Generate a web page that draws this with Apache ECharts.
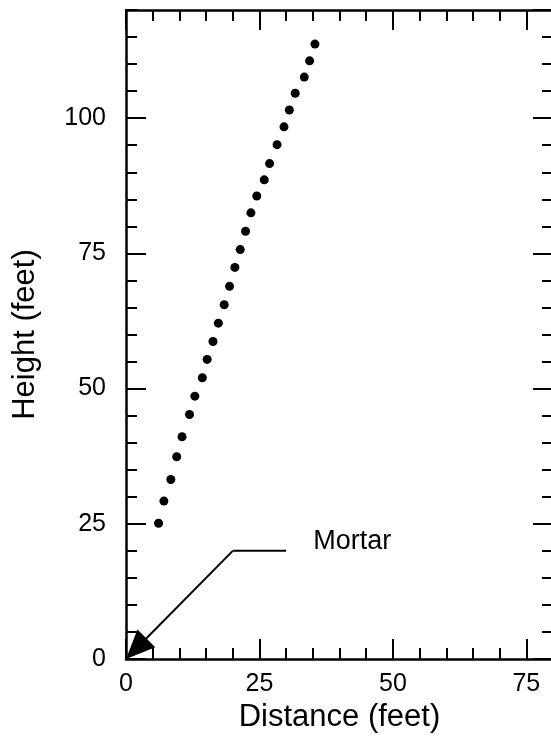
<!DOCTYPE html>
<html><head><meta charset="utf-8">
<script src="https://cdn.jsdelivr.net/npm/echarts@6/dist/echarts.min.js"></script>
<style>html,body{margin:0;padding:0;background:#fff}#chart{width:551px;height:737px}</style>
</head><body><div id="chart"></div>
<script>
// Data
const distance = [6.1, 7.1, 8.4, 9.5, 10.5, 11.9, 12.9, 14.3, 15.2, 16.3, 17.3, 18.4, 19.4, 20.4, 21.4, 22.4, 23.4, 24.5, 25.9, 26.9, 28.3, 29.6, 30.6, 31.7, 33.4, 34.4, 35.4];
const height = [25.1, 29.2, 33.2, 37.4, 41.1, 45.2, 48.6, 52.0, 55.4, 58.7, 62.1, 65.5, 68.9, 72.4, 75.7, 79.1, 82.5, 85.6, 88.6, 91.6, 95.1, 98.4, 101.5, 104.6, 107.6, 110.6, 113.7];
const xTickLabels = ['0', '25', '50', '75'];
const yTickLabels = ['0', '25', '50', '75', '100'];
const mortarLeader = [[30, 20], [20, 20]];
const mortarArrow = [[20, 20], [0, 0]];
const mortarLabelPos = [35.1, 21.7];
const mortarText = 'Mortar';

const FONT = 'Liberation Sans';
const BLACK = '#000';

function majorAxis(pos, min, max, withLabels, labels, name, nameGap) {
  return {
    type: 'value', position: pos, min: min, max: max, interval: 25,
    axisLine: { show: true, onZero: false, lineStyle: { color: BLACK, width: 2.5 } },
    axisTick: { show: true, inside: true, length: 20, lineStyle: { color: BLACK, width: 2 } },
    axisLabel: {
      show: withLabels, showMaxLabel: false, margin: (pos === 'left' ? 20 : 13),
      fontSize: 25, color: BLACK, fontFamily: FONT,
      formatter: function (v) { const i = Math.round(v / 25); return labels[i] !== undefined ? labels[i] : ''; }
    },
    splitLine: { show: false },
    name: name || '', nameLocation: 'middle', nameGap: nameGap || 0,
    nameTextStyle: { fontSize: 31, color: BLACK, fontFamily: FONT }
  };
}
function minorAxis(pos, min, max) {
  return {
    type: 'value', position: pos, min: min, max: max, interval: 5,
    axisLine: { show: false, onZero: false },
    axisTick: { show: true, inside: true, length: 11, lineStyle: { color: BLACK, width: 2 } },
    axisLabel: { show: false },
    splitLine: { show: false }
  };
}

const chart = echarts.init(document.getElementById('chart'), null, { renderer: 'canvas' });
chart.setOption({
  animation: false,
  backgroundColor: '#fff',
  grid: { left: 126, top: 10, width: 427, height: 649, outerBoundsMode: 'none', containLabel: false },
  xAxis: [
    majorAxis('bottom', 0, 80, true, xTickLabels, 'Distance (feet)', 43),
    minorAxis('bottom', 0, 80),
    majorAxis('top', 0, 80, false, xTickLabels),
    minorAxis('top', 0, 80)
  ],
  yAxis: [
    majorAxis('left', 0, 120, true, yTickLabels, 'Height (feet)', 85),
    minorAxis('left', 0, 120),
    majorAxis('right', 0, 120, false, yTickLabels),
    minorAxis('right', 0, 120)
  ],
  series: [
    {
      type: 'scatter', xAxisIndex: 0, yAxisIndex: 0,
      data: distance.map((d, i) => [d, height[i]]),
      symbol: 'circle', symbolSize: 9,
      itemStyle: { color: BLACK, opacity: 1 },
      emphasis: { disabled: true }
    },
    {
      type: 'line', xAxisIndex: 0, yAxisIndex: 0,
      data: mortarLeader, symbol: 'none',
      lineStyle: { color: BLACK, width: 2 },
      emphasis: { disabled: true },
      markLine: {
        silent: true, symbol: ['none', 'triangle'],
        label: { show: false },
        lineStyle: { color: BLACK, width: 2, type: 'solid', opacity: 1 },
        emphasis: { disabled: true },
        data: [[
          { coord: mortarArrow[0], symbol: 'none' },
          { coord: mortarArrow[1], symbol: 'triangle', symbolSize: [25, 29], symbolOffset: [0, 14.5] }
        ]]
      }
    },
    {
      type: 'scatter', xAxisIndex: 0, yAxisIndex: 0,
      data: [mortarLabelPos], symbol: 'circle', symbolSize: 0,
      itemStyle: { color: BLACK, opacity: 1 },
      label: {
        show: true, position: 'right', distance: 0, formatter: mortarText,
        fontSize: 27, color: BLACK, fontFamily: FONT
      },
      emphasis: { disabled: true }
    }
  ]
});
</script>
</body></html>
